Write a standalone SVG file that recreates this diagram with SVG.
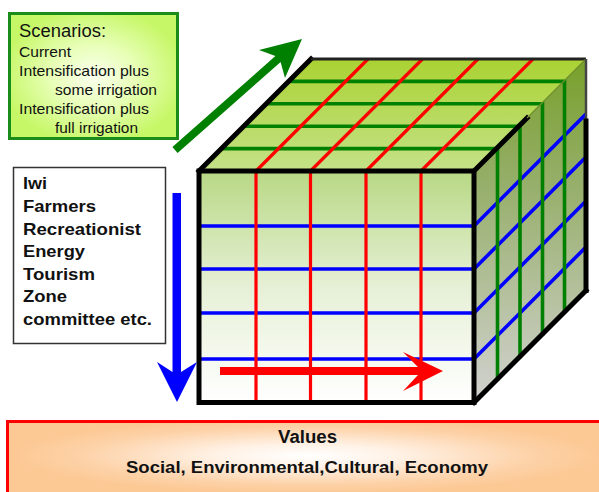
<svg xmlns="http://www.w3.org/2000/svg" width="599" height="492" viewBox="0 0 599 492">
<defs>
<radialGradient id="gScen" cx="0.5" cy="0.5" r="0.55">
<stop offset="0" stop-color="#fbffee"/>
<stop offset="0.45" stop-color="#e8ffb8"/>
<stop offset="1" stop-color="#c6f766"/>
</radialGradient>
<radialGradient id="gVal" cx="0.5" cy="0.45" r="0.5">
<stop offset="0" stop-color="#ffffff"/>
<stop offset="0.3" stop-color="#fff2e6"/>
<stop offset="0.75" stop-color="#fdd2a8"/>
<stop offset="1" stop-color="#fcc893"/>
</radialGradient>
<linearGradient id="gTop" gradientUnits="userSpaceOnUse" x1="0" y1="59" x2="0" y2="171">
<stop offset="0" stop-color="#aad232"/>
<stop offset="1" stop-color="#c4e288"/>
</linearGradient>
<linearGradient id="gRight" gradientUnits="userSpaceOnUse" x1="0" y1="59" x2="0" y2="402">
<stop offset="0" stop-color="#78a02a"/>
<stop offset="0.35" stop-color="#95ae68"/>
<stop offset="1" stop-color="#d2d2d0"/>
</linearGradient>
<linearGradient id="gFront" gradientUnits="userSpaceOnUse" x1="0" y1="171" x2="0" y2="402">
<stop offset="0" stop-color="#b8d884"/>
<stop offset="0.5" stop-color="#e6f0d6"/>
<stop offset="1" stop-color="#ffffff"/>
</linearGradient>
<style>
.t{font-family:"Liberation Sans",Arial,sans-serif;fill:#111}
.b{font-weight:bold}
.red{stroke:#ff0000;stroke-width:3.2;fill:none}
.blue{stroke:#0000ff;stroke-width:3.6;fill:none}
.green{stroke:#008000;stroke-width:3.6;fill:none}
.edge{stroke:#000;stroke-width:5;fill:none;stroke-linecap:square}
</style>
</defs>

<g id="values">
<rect x="7.5" y="421.5" width="600" height="76" fill="url(#gVal)" stroke="#ff0000" stroke-width="3"/>
<text class="t b" x="307.5" y="443" font-size="17.5" text-anchor="middle" textLength="59" lengthAdjust="spacingAndGlyphs">Values</text>
<text class="t b" x="126" y="473" font-size="17" textLength="362" lengthAdjust="spacingAndGlyphs">Social, Environmental,Cultural, Economy</text>
</g>

<g id="scenarios">
<rect x="9.5" y="13.5" width="168" height="125" fill="url(#gScen)" stroke="#1a8c1a" stroke-width="3"/>
<text class="t" x="19" y="37" font-size="17.5" textLength="87" lengthAdjust="spacingAndGlyphs">Scenarios:</text>
<text class="t" x="19" y="56.5" font-size="15" textLength="52" lengthAdjust="spacingAndGlyphs">Current</text>
<text class="t" x="19" y="75.5" font-size="15" textLength="130" lengthAdjust="spacingAndGlyphs">Intensification plus</text>
<text class="t" x="55" y="94.5" font-size="15" textLength="102" lengthAdjust="spacingAndGlyphs">some irrigation</text>
<text class="t" x="19" y="113.5" font-size="15" textLength="130" lengthAdjust="spacingAndGlyphs">Intensification plus</text>
<text class="t" x="55" y="132.5" font-size="15" textLength="83" lengthAdjust="spacingAndGlyphs">full irrigation</text>
</g>

<g id="stakeholders">
<rect x="13.5" y="167.5" width="152" height="176" fill="#ffffff" stroke="#333" stroke-width="1.5"/>
<text class="t b" x="23" y="189" font-size="16.5" textLength="24" lengthAdjust="spacingAndGlyphs">Iwi</text>
<text class="t b" x="23" y="212" font-size="16.5" textLength="73" lengthAdjust="spacingAndGlyphs">Farmers</text>
<text class="t b" x="23" y="234.5" font-size="16.5" textLength="118" lengthAdjust="spacingAndGlyphs">Recreationist</text>
<text class="t b" x="23" y="257" font-size="16.5" textLength="62" lengthAdjust="spacingAndGlyphs">Energy</text>
<text class="t b" x="23" y="279.5" font-size="16.5" textLength="72" lengthAdjust="spacingAndGlyphs">Tourism</text>
<text class="t b" x="23" y="302" font-size="16.5" textLength="44" lengthAdjust="spacingAndGlyphs">Zone</text>
<text class="t b" x="23" y="325" font-size="16.5" textLength="129" lengthAdjust="spacingAndGlyphs">committee etc.</text>
</g>

<g id="cube">
<polygon points="199,171 311,59 586,59 474,171" fill="url(#gTop)"/>
<polygon points="474,171 586,59 586,290.5 474,402.5" fill="url(#gRight)"/>
<rect x="199" y="171" width="275" height="231.5" fill="url(#gFront)"/>
<g class="blue">
<polyline points="200,226 474,226 586,114"/>
<polyline points="200,269 474,269 586,157"/>
<polyline points="200,313 474,313 586,201"/>
<polyline points="200,359 474,359 586,247"/>
</g>
<g class="green">
<polyline points="221.5,148.6 497.5,148.6 497.5,381"/>
<polyline points="244,126.2 520,126.2 520,358.5"/>
<polyline points="266,103.8 542.5,103.8 542.5,336"/>
<polyline points="288.5,81.4 564.5,81.4 564.5,313.5"/>
</g>
<g class="red">
<polyline points="256,403 256,171 368,59"/>
<polyline points="310.5,403 310.5,171 422.5,59"/>
<polyline points="366,403 366,171 478,59"/>
<polyline points="421,403 421,171 533,59"/>
</g>
<rect x="199" y="171" width="275" height="231.5" class="edge"/>
<line x1="199" y1="171" x2="311" y2="59" class="edge"/>
<line x1="311" y1="59" x2="586" y2="59" stroke="#222" stroke-width="3"/>
<line x1="474" y1="171" x2="527" y2="118" class="edge"/>
<line x1="527" y1="118" x2="586" y2="59" stroke="#6f8f2c" stroke-width="1.2"/>
<line x1="586" y1="59" x2="586" y2="121" stroke="#444" stroke-width="2.5"/>
<line x1="586" y1="121" x2="586" y2="290.5" class="edge"/>
<line x1="474" y1="402.5" x2="586" y2="290.5" class="edge"/>
</g>

<g id="arrows">
<polygon points="172.4,147 275.4,56 259,50 302,39 285,78 280.6,62 177.6,153" fill="#008000"/>
<polygon points="172.5,193 172.5,372 157,362 177,402 197,362 181,372 181,193" fill="#0000ff"/>
<polygon points="220,367 418,367 403,352 443,371 403,391 418,375 220,375" fill="#ff0000"/>
</g>
</svg>
